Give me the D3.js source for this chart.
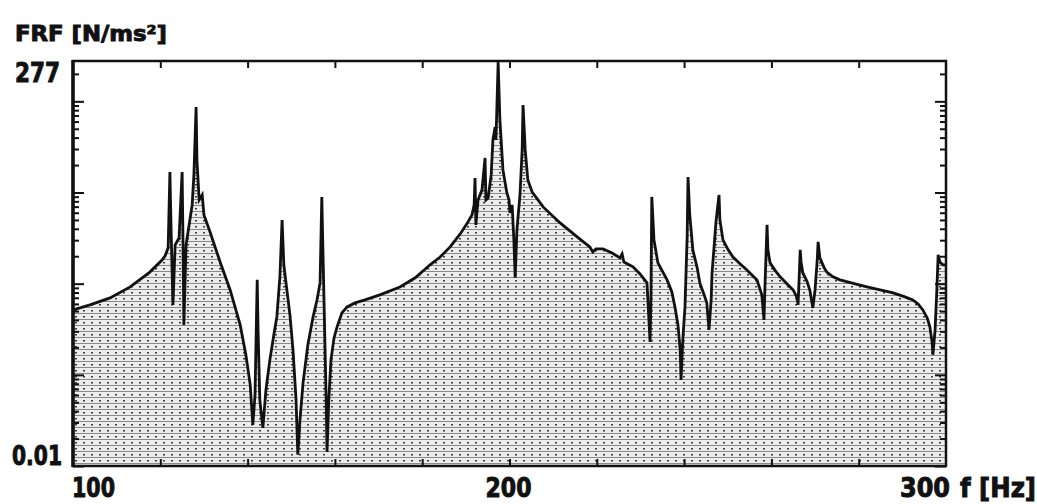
<!DOCTYPE html>
<html>
<head>
<meta charset="utf-8">
<script src="https://cdn.jsdelivr.net/npm/d3@7"></script>
<style>
  html, body { margin: 0; padding: 0; background: #fff; }
  svg { display: block; }
  .lbl { font-family: "Liberation Sans Narrow", "DejaVu Sans Condensed", "Liberation Sans", sans-serif; font-weight: bold; fill: #111; stroke: #111; stroke-width: 0.9; }
</style>
</head>
<body>
<svg id="chart" width="1037" height="504"></svg>
<script>
// ---- data ----
const freqHz = [100.0,103.9,108.5,113.1,117.6,120.4,121.1,121.8,122.2,122.5,122.9,123.4,124.3,125.0,125.2,125.4,125.9,126.6,127.3,127.7,
  128.2,128.4,128.9,129.6,130.0,131.4,133.7,136.0,138.3,139.6,140.6,141.2,141.7,142.2,142.4,142.8,143.5,144.2,145.1,146.0,
  146.7,147.4,147.9,148.3,149.0,149.7,150.4,151.1,151.5,152.0,152.7,153.8,155.0,155.9,156.6,157.0,157.5,158.0,158.2,158.6,
  159.1,159.8,160.5,161.6,162.8,164.6,166.9,170.3,174.9,178.4,181.8,184.1,186.4,188.7,190.5,191.4,191.9,192.1,192.3,192.8,
  193.7,194.4,194.6,195.1,195.8,196.2,196.7,196.9,197.4,197.8,198.5,199.4,199.9,200.1,200.6,201.0,201.3,201.7,202.4,202.9,
  203.1,203.6,204.2,205.2,207.7,211.6,215.5,218.4,219.1,219.8,221.4,223.5,225.3,225.8,226.2,228.3,229.9,231.5,232.2,232.4,
  232.6,233.1,234.0,236.1,237.2,237.9,238.6,239.1,239.3,239.7,240.2,240.7,240.9,241.3,242.0,243.0,243.6,244.6,245.2,245.7,
  246.2,246.4,246.9,247.3,248.0,248.2,248.9,250.1,251.2,252.8,254.4,256.7,257.8,258.3,258.5,259.0,259.2,259.7,260.8,262.0,
  263.6,265.0,265.9,266.1,266.3,266.6,266.8,267.2,268.2,268.8,269.5,270.0,270.5,270.7,271.1,272.1,272.7,274.1,275.7,279.2,
  281.9,284.9,287.9,290.6,292.4,293.6,294.7,295.7,296.3,296.8,297.0,297.5,297.9,298.2,298.6,299.3,300.0];
const frfValue = [0.515,0.585,0.698,0.921,1.34,1.82,2.02,2.47,16.8,3.43,0.585,2.66,3.17,16.8,3.02,0.353,2.66,4.41,7.31,15.6,
  86.8,22.7,8.28,9.40,5.67,3.69,1.73,0.853,0.353,0.166,0.0776,0.0283,0.0603,1.10,0.311,0.0531,0.0262,0.0684,0.146,0.274,
  0.432,1.19,5.00,1.61,0.853,0.454,0.188,0.0531,0.0133,0.0321,0.0816,0.213,0.432,0.663,1.02,8.94,0.663,0.0531,0.0143,0.0531,
  0.146,0.254,0.336,0.478,0.556,0.615,0.663,0.753,0.921,1.16,1.61,1.96,2.53,3.51,4.76,5.67,7.31,14.4,4.41,8.28,
  10.7,23.9,8.28,8.71,15.6,37.7,52.3,37.7,270,62.5,17.7,9.89,8.28,5.97,7.31,3.02,1.16,3.88,9.40,29.3,
  91.2,29.3,13.7,10.1,6.95,4.64,3.26,2.53,2.23,2.41,2.41,2.17,1.92,2.12,1.73,1.53,1.28,1.02,0.230,0.663,
  8.94,3.02,1.69,1.10,0.811,0.556,0.353,0.188,0.0881,0.242,0.556,3.26,14.8,5.67,2.35,1.49,1.02,0.753,0.615,0.311,
  0.663,1.31,2.66,4.76,9.40,5.00,3.02,2.35,1.96,1.65,1.41,1.10,0.753,0.400,0.853,4.41,2.35,1.69,1.41,1.19,
  0.993,0.853,0.698,0.585,0.969,2.35,1.73,1.31,1.05,0.853,0.542,0.853,1.82,2.87,1.92,1.49,1.34,1.19,1.10,0.993,
  0.921,0.853,0.792,0.716,0.663,0.600,0.515,0.421,0.336,0.230,0.166,0.311,0.853,2.07,1.73,1.61,1.61];
const xDomain = [100, 300];
const yDomain = [0.01, 277];
const xTickValues = [120,140,160,180,200,220,240,260,280];
const xLabels = ["100", "200", "300"];
const yLabels = ["277", "0.01"];
const yTitle = "FRF [N/ms²]";
const xUnit = "f [Hz]";

// ---- layout ----
const svg = d3.select("#chart");
const L = 73, R = 946, T = 61, B = 466;
const x = d3.scaleLinear().domain(xDomain).range([L, R]);
const y = d3.scaleLog().domain(yDomain).range([B, T]);
const data = freqHz.map((f, i) => ({ f, v: frfValue[i] }));

// fill pattern: horizontal rows of dots and dashes
const defs = svg.append("defs");
const pat = defs.append("pattern").attr("id", "hatch").attr("patternUnits", "userSpaceOnUse")
  .attr("x", 0).attr("y", 1).attr("width", 8).attr("height", 6);
pat.append("rect").attr("width", 8).attr("height", 6).attr("fill", "#ececec");
pat.append("rect").attr("x", 0).attr("y", 0).attr("width", 8).attr("height", 1).attr("fill", "#8a8a8a");
pat.append("rect").attr("x", 3).attr("y", 3).attr("width", 2).attr("height", 1.5).attr("fill", "#3a3a3a");
defs.append("clipPath").attr("id", "clip").append("rect").attr("x", L).attr("y", T).attr("width", R - L).attr("height", B - T);

const g = svg.append("g").attr("clip-path", "url(#clip)");
g.append("path").datum(data)
  .attr("d", d3.area().x(d => x(d.f)).y0(B).y1(d => y(d.v)))
  .attr("fill", "url(#hatch)");
g.append("path").datum(data)
  .attr("d", d3.line().x(d => x(d.f)).y(d => y(d.v)))
  .attr("fill", "none").attr("stroke", "#111").attr("stroke-width", 2.8).attr("stroke-linejoin", "miter");

// ---- axes ----
const allTicks = y.ticks();
const major = allTicks.filter(v => Math.abs(Math.log10(v) - Math.round(Math.log10(v))) < 1e-9);
const minor = allTicks.filter(v => !major.includes(v));
function styleAxis(sel) {
  sel.select(".domain").remove();
  sel.selectAll("line").attr("stroke", "#111").attr("stroke-width", 2);
}
svg.append("g").attr("transform", `translate(${L},0)`)
  .call(d3.axisRight(y).tickValues(minor).tickSize(6).tickFormat("")).call(styleAxis);
svg.append("g").attr("transform", `translate(${L},0)`)
  .call(d3.axisRight(y).tickValues(major).tickSize(11).tickFormat("")).call(styleAxis);
svg.append("g").attr("transform", `translate(${R},0)`)
  .call(d3.axisLeft(y).tickValues(minor).tickSize(6).tickFormat("")).call(styleAxis);
svg.append("g").attr("transform", `translate(${R},0)`)
  .call(d3.axisLeft(y).tickValues(major).tickSize(11).tickFormat("")).call(styleAxis);
svg.append("g").attr("transform", `translate(0,${T})`)
  .call(d3.axisBottom(x).tickValues(xTickValues).tickSize(7).tickFormat("")).call(styleAxis);
svg.append("g").attr("transform", `translate(0,${B})`)
  .call(d3.axisTop(x).tickValues(xTickValues).tickSize(7).tickFormat("")).call(styleAxis);

// frame
svg.append("rect").attr("x", L).attr("y", T).attr("width", R - L).attr("height", B - T)
  .attr("fill", "none").attr("stroke", "#111").attr("stroke-width", 2.5);
svg.append("line").attr("x1", L).attr("x2", L).attr("y1", T - 1).attr("y2", B + 1)
  .attr("stroke", "#111").attr("stroke-width", 3.5);

// ---- labels ----
function label(txt, px, py, size, len) {
  svg.append("text").attr("class", "lbl").attr("x", px).attr("y", py)
    .attr("font-size", size).attr("textLength", len).attr("lengthAdjust", "spacingAndGlyphs").text(txt);
}
label(yTitle, 15, 41, 22, 152);
label(yLabels[0], 15, 82, 27, 45);
label(yLabels[1], 12, 465, 27, 50);
label(xLabels[0], x(100) - 1, 497, 27, 43);
label(xLabels[1], x(200) - 24, 497, 27, 46);
label(xLabels[2], x(300) - 46, 497, 27, 50);
label(xUnit, x(300) + 14, 497, 27, 76);
</script>
</body>
</html>
